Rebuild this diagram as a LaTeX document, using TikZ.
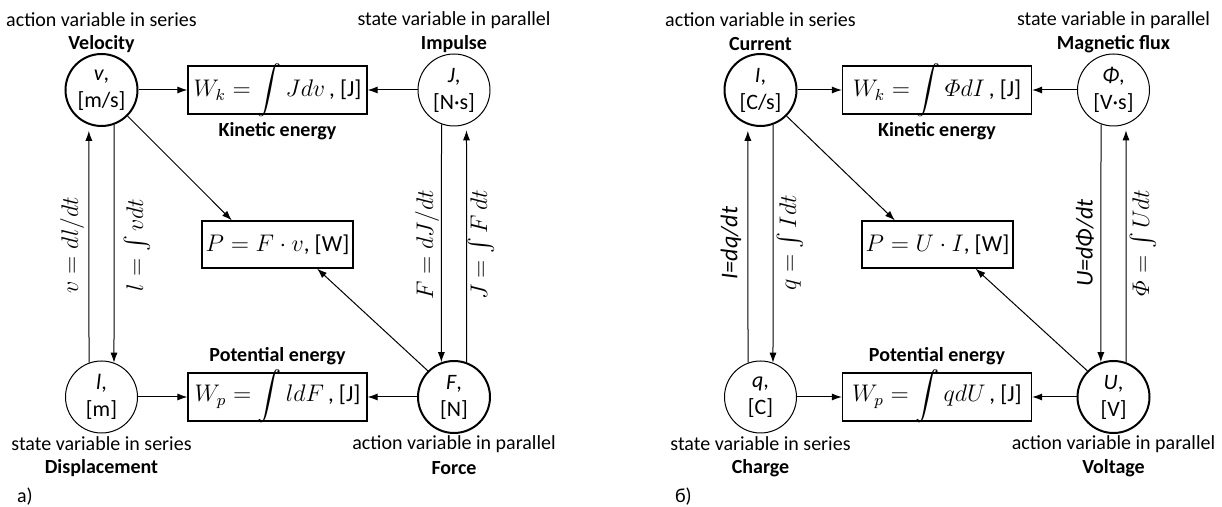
\documentclass[tikz,border=0pt]{standalone}
\usepackage{amsmath}
\usepackage{fontspec}
\setmainfont{Carlito}
\usetikzlibrary{arrows.meta,calc}

\begin{document}
\begin{tikzpicture}[x=.5pt, y=-.5pt, >={Latex[length=5pt,width=3.5pt]}]
	\tikzset{
		var/.style={circle, draw, minimum size=36pt, inner sep=0pt, align=center, font=\fontsize{11}{13.5}\selectfont},
		action/.style={var, line width=1pt},
		state/.style={var, line width=.5pt},
		energy/.style={draw, line width=.6pt, minimum height=24pt, inner sep=0pt, font=\fontsize{11.5}{14}\selectfont},
		role/.style={font=\fontsize{10}{12}\selectfont},
		title/.style={font=\bfseries\fontsize{10}{12}\selectfont},
		link/.style={->, line width=.5pt},
		law/.style={rotate=90, font=\fontsize{12}{14}\selectfont},
	}
	% big integral sign, allowed to stick out of the box
	\def\intsign{\smash{\displaystyle\int}\,}

	\useasboundingbox (0, 0) rectangle (1222, 507);

	% a) mechanical
	\node[action] (v) at (101.5, 90) {\textit{v},\\{[m/s]}};
	\node[state] (J) at (454, 90) {\textit{J},\\{[N·s]}};
	\node[state] (l) at (101.5, 397) {\textit{l},\\{[m]}};
	\node[action] (F) at (454, 397) {\textit{F},\\{[N]}};

	\node[role] (vrole) at (101.5, 20) {action variable in series};
	\node[title] (vname) at (101.5, 44) {Velocity};
	\node[role] (Jrole) at (454, 20) {state variable in parallel};
	\node[title] (Jname) at (454, 44) {Impulse};
	\node[role] (lrole) at (101.5, 444) {state variable in series};
	\node[title] (lname) at (101.5, 468) {Displacement};
	\node[role] (Frole) at (454, 444) {action variable in parallel};
	\node[title] (Fname) at (454, 468) {Force};

	\node[energy, minimum width=89.5pt] (Wk) at (277.5, 90) {$W_k = \intsign Jdv$\,, [J]};
	\node[energy, minimum width=89.5pt] (Wp) at (277.5, 397) {$W_p = \intsign ldF$\,, [J]};
	\node[energy, minimum width=75.5pt, minimum height=23.5pt] (P) at (277.5, 244.5) {$P = F\cdot v$, [W]};
	\node[title] (Wkname) at (277.5, 131) {Kinetic energy};
	\node[title] (Wpname) at (277.5, 356) {Potential energy};

	\draw[link] (v) -- (Wk);
	\draw[link] (J) -- (Wk);
	\draw[link] (l) -- (Wp);
	\draw[link] (F) -- (Wp);
	\draw[link] (v.290) -- (l.70);
	\draw[link, shorten >=3pt] (l.110) -- (v.250);
	\draw[link] (J.250) -- (F.110);
	\draw[link, shorten >=3pt] (F.70) -- (J.290);
	\draw[link] (v.-45) -- ($(P.north west)!.2!(P.north east)$);
	\draw[link] (F.135) -- ($(P.south west)!.76!(P.south east)$);

	\node[law] (vlaw) at (72, 245) {$v = dl/dt$};
	\node[law] (llaw) at (137, 245) {$l = \int vdt$};
	\node[law] (Flaw) at (427, 245) {$F = dJ/dt$};
	\node[law] (Jlaw) at (481, 245) {$J = \int F\,dt$};

	\node[role, anchor=west] (mech) at (10, 497) {a)};

	% b) electrical
	\node[action] (I) at (760.5, 90) {\textit{I},\\{[C/s]}};
	\node[state] (Phi) at (1113.5, 90) {\textit{Φ},\\{[V·s]}};
	\node[state] (q) at (760.5, 397) {\textit{q},\\{[C]}};
	\node[action] (U) at (1113.5, 397) {\textit{U},\\{[V]}};

	\node[role] (Irole) at (760.5, 20) {action variable in series};
	\node[title] (Iname) at (760.5, 44) {Current};
	\node[role] (Phirole) at (1113.5, 20) {state variable in parallel};
	\node[title] (Phiname) at (1113.5, 44) {Magnetic flux};
	\node[role] (qrole) at (760.5, 444) {state variable in series};
	\node[title] (qname) at (760.5, 468) {Charge};
	\node[role] (Urole) at (1113.5, 444) {action variable in parallel};
	\node[title] (Uname) at (1113.5, 468) {Voltage};

	\node[energy, minimum width=94.5pt] (Wk2) at (937, 90) {$W_k = \intsign \varPhi dI$\,, [J]};
	\node[energy, minimum width=94.5pt] (Wp2) at (937, 397) {$W_p = \intsign qdU$\,, [J]};
	\node[energy, minimum width=75.5pt, minimum height=23.5pt] (P2) at (937.5, 244.5) {$P = U\cdot I$, [W]};
	\node[title] (Wk2name) at (937, 131) {Kinetic energy};
	\node[title] (Wp2name) at (937, 356) {Potential energy};

	\draw[link] (I) -- (Wk2);
	\draw[link] (Phi) -- (Wk2);
	\draw[link] (q) -- (Wp2);
	\draw[link] (U) -- (Wp2);
	\draw[link] (I.290) -- (q.70);
	\draw[link, shorten >=3pt] (q.110) -- (I.250);
	\draw[link] (Phi.250) -- (U.110);
	\draw[link, shorten >=3pt] (U.70) -- (Phi.290);
	\draw[link] (I.-45) -- ($(P2.north west)!.22!(P2.north east)$);
	\draw[link] (U.135) -- ($(P2.south west)!.75!(P2.south east)$);

	\node[law] (Ilaw) at (731, 243) {\textit{I=dq/dt}};
	\node[law] (qlaw) at (790, 243) {$q = \int Idt$};
	\node[law] (Ulaw) at (1085, 243) {\textit{U=dΦ/dt}};
	\node[law] (Philaw) at (1143, 243) {$\varPhi = \int Udt$};

	\node[role, anchor=west] (elec) at (668, 497) {б)};
\end{tikzpicture}
\end{document}
